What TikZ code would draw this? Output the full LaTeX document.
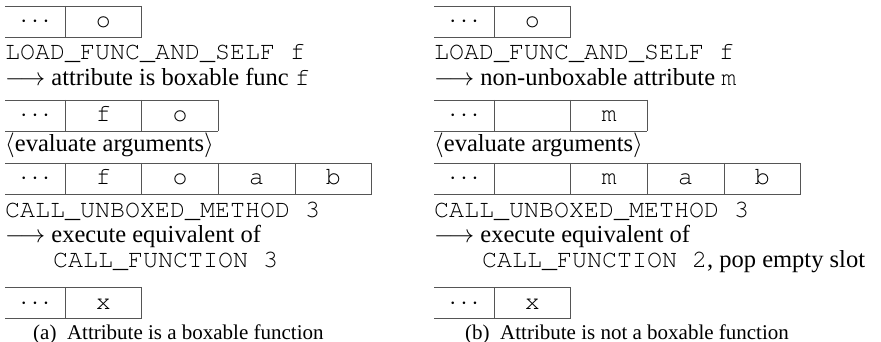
\documentclass[tikz,border=0pt]{standalone}
\usepackage[T1]{fontenc}
\usepackage{fontspec}
\setmainfont{Liberation Serif}
\setmonofont{Liberation Mono}
\newcommand\serifsz{\fontsize{24.5}{28}\selectfont}
\newcommand\monosz{\fontencoding{T1}\fontfamily{pcr}\fontseries{m}\fontshape{n}\fontsize{25}{28}\selectfont}
\newcommand\mtt[1]{{\monosz #1}}
\definecolor{boxline}{HTML}{555555}
\tikzset{
  txt/.style={anchor=base west, inner sep=0pt, font=\serifsz},
  cell/.style={anchor=base, inner sep=0pt, font=\serifsz},
  boxrule/.style={draw=boxline, line width=0.9pt},
}
% #1 name, #2 x0, #3 ytop, #4 list of cell contents after the dots
\newcommand\stackrow[4]{%
  \path (#2+30,#3+22) node[cell] (#1-0) {$\cdots$};
  \draw[boxrule] (#2,#3) -- (#2+60,#3) (#2,#3+31) -- (#2+60,#3+31) (#2+60,#3) -- (#2+60,#3+31);
  \foreach \c [count=\i] in {#4} {
    \pgfmathsetmacro\xl{#2+60+(\i-1)*76.67}
    \pgfmathsetmacro\xr{\xl+76.67}
    \pgfmathsetmacro\xm{\xl+38.33}
    \path (\xm,#3+22) node[cell] (#1-\i) {\mtt{\c}};
    \draw[boxrule] (\xl,#3) -- (\xr,#3) (\xl,#3+31) -- (\xr,#3+31) (\xr,#3) -- (\xr,#3+31);
  }%
}
\begin{document}
\begin{tikzpicture}[x=1pt,y=-1pt]
\useasboundingbox (0,0) rectangle (881,342);
% ---------- left panel ----------
\stackrow{la}{5}{6}{o}
\node[txt] (l1) at (5,60) {\mtt{LOAD\_FUNC\_AND\_SELF f}};
\node[txt] (l2) at (5,86) {$\longrightarrow$ attribute is boxable func \mtt{f}};
\stackrow{lb}{5}{100}{f,o}
\node[txt] (l3) at (5,152) {$\langle$evaluate arguments$\rangle$};
\stackrow{lc}{5}{163}{f,o,a,b}
\node[txt] (l4) at (5,217) {\mtt{CALL\_UNBOXED\_METHOD 3}};
\node[txt] (l5) at (5,242) {$\longrightarrow$ execute equivalent of};
\node[txt] (l6) at (53,267) {\mtt{CALL\_FUNCTION 3}};
\stackrow{ld}{5}{287}{x}
\node[txt, font=\fontsize{21}{25}\selectfont] (capa) at (33,339) {(a)\enspace Attribute is a boxable function};
% ---------- right panel ----------
\stackrow{ra}{434}{6}{o}
\node[txt] (r1) at (434,60) {\mtt{LOAD\_FUNC\_AND\_SELF f}};
\node[txt] (r2) at (434,86) {$\longrightarrow$ non-unboxable attribute \mtt{m}};
\stackrow{rb}{434}{100}{{},m}
\node[txt] (r3) at (434,152) {$\langle$evaluate arguments$\rangle$};
\stackrow{rc}{434}{163}{{},m,a,b}
\node[txt] (r4) at (434,217) {\mtt{CALL\_UNBOXED\_METHOD 3}};
\node[txt] (r5) at (434,242) {$\longrightarrow$ execute equivalent of};
\node[txt] (r6) at (482,267) {\mtt{CALL\_FUNCTION 2}, pop empty slot};
\stackrow{rd}{434}{287}{x}
\node[txt, font=\fontsize{21}{25}\selectfont] (capb) at (465,339) {(b)\enspace Attribute is not a boxable function};
\end{tikzpicture}
\end{document}
